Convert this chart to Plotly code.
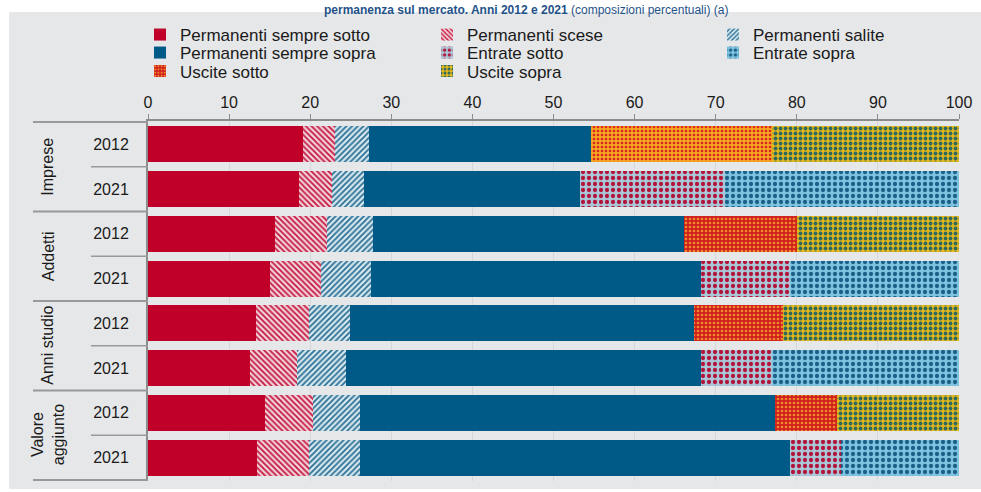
import plotly.graph_objects as go

# ---------------- data (top-to-bottom as in the chart) ----------------
groups = ["Imprese", "Imprese", "Addetti", "Addetti",
          "Anni studio", "Anni studio", "Valore aggiunto", "Valore aggiunto"]
years = ["2012", "2021", "2012", "2021", "2012", "2021", "2012", "2021"]

perm_sempre_sotto = [19.1, 18.6, 15.7, 15.0, 13.3, 12.6, 14.4, 13.4]
perm_scese = [4.0, 4.1, 6.4, 6.3, 6.6, 5.8, 6.0, 6.5]
perm_salite = [4.2, 3.9, 5.6, 6.2, 5.0, 6.0, 5.8, 6.2]
perm_sempre_sopra = [27.3, 26.7, 38.4, 40.7, 42.4, 43.8, 51.1, 53.1]
entrate_sotto = [None, 17.8, None, 11.0, None, 8.7, None, 6.3]
entrate_sopra = [None, 28.9, None, 20.8, None, 23.1, None, 14.5]
uscite_sotto = [22.3, None, 13.9, None, 11.0, None, 7.7, None]
uscite_sopra = [23.1, None, 20.0, None, 21.7, None, 15.0, None]

x_ticks = [0, 10, 20, 30, 40, 50, 60, 70, 80, 90, 100]

# plotly puts the first category at the bottom: reverse to bottom-to-top
def rev(a):
    return list(reversed(a))

cats = rev([g + " " + y for g, y in zip(groups, years)])
ylabels = rev(years)

# ---------------- geometry helpers (pixels -> paper) ----------------
W, H = 981, 492
L, R, T, B = 148, 22, 121, 11
PW, PH = W - L - R, H - T - B

def px(p):
    return (p - L) / PW

def py(p):
    return 1 + (T - p) / PH

FONT = "Liberation Sans, Arial, sans-serif"

series = [
    ("Permanenti sempre sotto", perm_sempre_sotto, dict(color="#C00028"), None),
    ("Permanenti scese", perm_scese, None,
     dict(shape="\\", fgcolor="#C4173F", bgcolor="#F1D3DA", size=4, solidity=0.45, fillmode="replace")),
    ("Permanenti salite", perm_salite, None,
     dict(shape="/", fgcolor="#2C6E92", bgcolor="#D6E9F1", size=4, solidity=0.45, fillmode="replace")),
    ("Permanenti sempre sopra", perm_sempre_sopra, dict(color="#005A87"), None),
    ("Entrate sotto", entrate_sotto, None,
     dict(shape=".", fgcolor="#B3153A", bgcolor="#A9C7D8", size=6, solidity=0.4, fillmode="replace")),
    ("Uscite sotto", uscite_sotto, None,
     dict(shape=".", fgcolor=rev(["#D8261E", "#F08A2A", "#F08A2A", "#F08A2A",
                                  "#F08A2A", "#F08A2A", "#F08A2A", "#F08A2A"]),
          bgcolor=rev(["#F5A623", "#D0201E", "#D0201E", "#D0201E",
                       "#D0201E", "#D0201E", "#D0201E", "#D0201E"]),
          size=4, solidity=0.35, fillmode="replace")),
    ("Entrate sopra", entrate_sopra, None,
     dict(shape=".", fgcolor="#1C5F88", bgcolor="#7EC3DF", size=6, solidity=0.4, fillmode="replace")),
    ("Uscite sopra", uscite_sopra, None,
     dict(shape=".", fgcolor="#2F6A5C", bgcolor="#E2B71E", size=5, solidity=0.45, fillmode="replace")),
]

# legend slot (row, col) per series
legend_pos = {
    "Permanenti sempre sotto": (0, 0),
    "Permanenti scese": (0, 1),
    "Permanenti salite": (0, 2),
    "Permanenti sempre sopra": (1, 0),
    "Entrate sotto": (1, 1),
    "Entrate sopra": (1, 2),
    "Uscite sotto": (2, 0),
    "Uscite sopra": (2, 1),
}
col_text_x = [180, 467, 753]
row_y = [35, 53, 71.5]

fig = go.Figure()
layout_legends = {}
for i, (name, vals, plain, pat) in enumerate(series):
    lid = "legend" if i == 0 else "legend%d" % (i + 1)
    marker = dict(line=dict(width=0))
    if plain:
        marker.update(plain)
    else:
        marker["pattern"] = pat
        marker["color"] = pat["bgcolor"] if isinstance(pat["bgcolor"], str) else "#D0201E"
    fig.add_trace(go.Bar(
        y=cats, x=rev(vals), name=name, orientation="h",
        marker=marker, legend=lid, hoverinfo="x+name",
    ))
    r, c = legend_pos[name]
    layout_legends[lid] = dict(
        x=px(col_text_x[c] - 40), xanchor="left",
        y=py(row_y[r]), yanchor="middle",
        bgcolor="rgba(0,0,0,0)", borderwidth=0,
        font=dict(family=FONT, size=17, color="#1a1a1a"),
        itemclick=False, itemdoubleclick=False,
    )

fig.update_layout(
    width=W, height=H,
    margin=dict(l=L, r=R, t=T, b=B, autoexpand=False),
    barmode="stack", bargap=0.2,
    paper_bgcolor="white", plot_bgcolor="rgba(0,0,0,0)",
    showlegend=True,
    font=dict(family=FONT, size=16, color="#1a1a1a"),
    **layout_legends,
)

fig.update_xaxes(
    side="top", range=[0, 100], tickvals=x_ticks,
    showgrid=True, gridcolor="#D6D7D8", gridwidth=1,
    showline=True, linecolor="#8C8C8C", linewidth=2,
    ticks="outside", ticklen=5, tickcolor="#8C8C8C", tickwidth=1,
    tickfont=dict(family=FONT, size=16, color="#1a1a1a"),
    zeroline=False, fixedrange=True,
)
fig.update_yaxes(
    type="category", categoryorder="array", categoryarray=cats,
    tickvals=cats, ticktext=ylabels,
    showline=True, linecolor="#8C8C8C", linewidth=2,
    ticks="", ticklabelstandoff=14,
    tickfont=dict(family=FONT, size=16, color="#1a1a1a"),
    showgrid=False, zeroline=False, fixedrange=True,
)

# gray panel behind everything
fig.add_shape(type="rect", xref="paper", yref="paper",
              x0=px(9), x1=px(990), y0=py(489), y1=py(12),
              fillcolor="#E6E7E8", line=dict(width=0), layer="below")

# dividers for the group/year label columns
n = len(cats)
for k in range(n + 1):
    yv = k - 0.5
    is_group = (k % 2 == 0)
    fig.add_shape(type="line", xref="paper", yref="y",
                  x0=px(33 if is_group else 91), x1=0, y0=yv, y1=yv,
                  line=dict(color="#9A9A9A", width=2 if is_group else 1.5),
                  layer="above")

# group labels (rotated)
group_names = ["Imprese", "Addetti", "Anni studio", "Valore<br>aggiunto"]
group_centers = [6.5, 4.5, 2.5, 0.5]
for gname, gc in zip(group_names, group_centers):
    fig.add_annotation(text=gname, xref="paper", yref="y",
                       x=px(48), y=gc, textangle=-90, showarrow=False,
                       xanchor="center", yanchor="middle",
                       font=dict(family=FONT, size=16, color="#1a1a1a"))

# title (in the thin white strip above the panel)
fig.add_annotation(
    text="<b>permanenza sul mercato. Anni 2012 e 2021</b> (composizioni percentuali) (a)",
    xref="paper", yref="paper", x=px(526), y=py(0.5), xanchor="center", yanchor="top",
    showarrow=False, font=dict(family=FONT, size=12, color="#1F5289"))

fig.write_html("out.html", config={"displayModeBar": False},
               post_script="document.body.style.margin='0px';")
